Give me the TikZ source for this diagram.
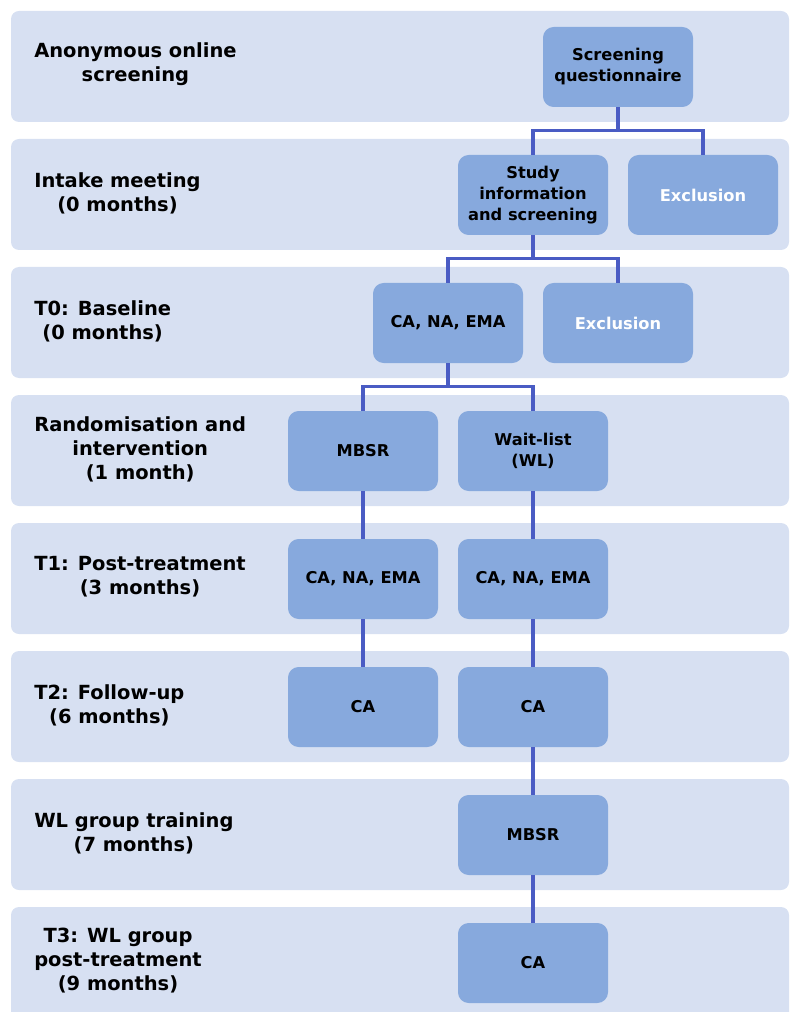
\documentclass[tikz,border=0pt]{standalone}
\usepackage{fontspec}
\setmainfont{DejaVu Sans}
\definecolor{bandfill}{RGB}{215,224,242}
\definecolor{boxfill}{RGB}{135,169,221}
\definecolor{linkblue}{RGB}{74,92,196}
\tikzset{
  band/.style={fill=bandfill, draw=none, rounded corners=6},
  phase/.style={anchor=west, align=center, inner sep=0.75pt, font=\fontsize{14.6}{18}\selectfont\bfseries},
  stage/.style={fill=boxfill, draw=none, rounded corners=8, minimum width=112.5pt, minimum height=60pt, align=center, inner sep=2pt, font=\fontsize{12.2}{15.75}\selectfont\bfseries},
  exclbox/.style={stage, text=white},
  link/.style={draw=linkblue, line width=2.4pt}
}
\begin{document}
\begin{tikzpicture}[x=0.75pt,y=0.75pt,yscale=-1,xscale=1]
\useasboundingbox (0,0) rectangle (790,1012);
\clip (0,0) rectangle (790,1012);

%Bands
\path[band] (11,11) rectangle (789,122);
\path[band] (11,139) rectangle (789,250);
\path[band] (11,267) rectangle (789,378);
\path[band] (11,395) rectangle (789,506);
\path[band] (11,523) rectangle (789,634);
\path[band] (11,651) rectangle (789,762);
\path[band] (11,779) rectangle (789,890);
\path[band] (11,907) rectangle (789,1020);

% Phase labels
\node[phase] (lab1) at (33,64) {Anonymous online\\screening};
\node[phase] (lab2) at (33,193) {Intake meeting\\(0 months)};
\node[phase] (lab3) at (33,321) {T0: Baseline\\(0 months)};
\node[phase] (lab4) at (33,449) {Randomisation and\\intervention\\(1 month)};
\node[phase] (lab5) at (33,577) {T1: Post-treatment\\(3 months)};
\node[phase] (lab6) at (33,705) {T2: Follow-up\\(6 months)};
\node[phase] (lab7) at (33,833) {WL group training\\(7 months)};
\node[phase] (lab8) at (33,961) {T3: WL group\\post-treatment\\(9 months)};

% Stage boxes
\node[stage] (scr) at (618,67) {Screening\\questionnaire};
\node[stage] (study) at (533,195) {Study\\information\\and screening};
\node[exclbox] (excla) at (703,195) {Exclusion};
\node[stage] (base) at (448,323) {CA, NA, EMA};
\node[exclbox] (exclb) at (618,323) {Exclusion};
\node[stage] (mbsr) at (363,451) {MBSR};
\node[stage] (wait) at (533,451) {Wait-list\\(WL)};
\node[stage] (posta) at (363,579) {CA, NA, EMA};
\node[stage] (postb) at (533,579) {CA, NA, EMA};
\node[stage] (fupa) at (363,707) {CA};
\node[stage] (fupb) at (533,707) {CA};
\node[stage] (wlmbsr) at (533,835) {MBSR};
\node[stage] (wlpost) at (533,963) {CA};

% Connectors
\coordinate (ja) at (618,130.5);
\coordinate (jb) at (533,258.5);
\coordinate (jc) at (448,386.5);
\draw[link] (scr.south) -- (ja) (study.north) |- (ja) -| (excla.north);
\draw[link] (study.south) -- (jb) (base.north) |- (jb) -| (exclb.north);
\draw[link] (base.south) -- (jc) (mbsr.north) |- (jc) -| (wait.north);
\draw[link] (mbsr) -- (posta);
\draw[link] (wait) -- (postb);
\draw[link] (posta) -- (fupa);
\draw[link] (postb) -- (fupb);
\draw[link] (fupb) -- (wlmbsr);
\draw[link] (wlmbsr) -- (wlpost);

\end{tikzpicture}
\end{document}
